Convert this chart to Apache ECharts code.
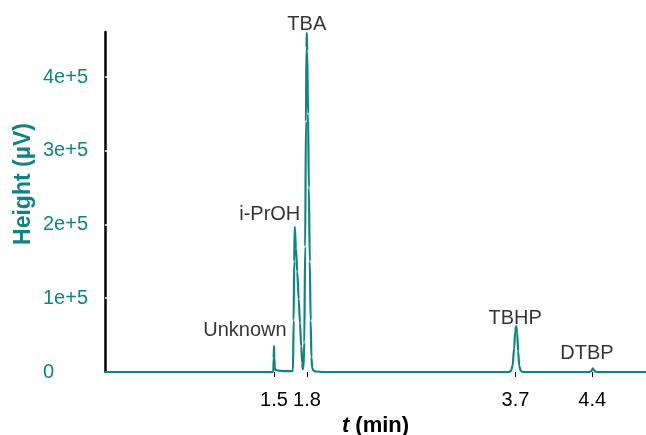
<!DOCTYPE html>
<html>
<head>
<meta charset="utf-8">
<script src="https://cdn.jsdelivr.net/npm/echarts@6/dist/echarts.min.js"></script>
<style>
html,body{margin:0;padding:0;background:#fff;}
#chart{width:646px;height:435px;}
</style>
</head>
<body>
<div id="chart"></div>
<script>
// Chromatogram trace
const times = [
  -0.04, 1.480, 1.494, 1.497, 1.500, 1.503, 1.507, 1.515, 1.540, 1.600, 1.665,
  1.673, 1.679, 1.684, 1.689, 1.700, 1.712, 1.725, 1.737, 1.748, 1.757, 1.762,
  1.768, 1.776, 1.784, 1.791, 1.796, 1.799, 1.803, 1.810, 1.818, 1.826, 1.834,
  1.841, 1.848, 1.858, 1.880, 1.950,
  3.640, 3.660, 3.675, 3.688, 3.698, 3.707, 3.716, 3.725, 3.735, 3.748, 3.770,
  4.370, 4.390, 4.400, 4.406, 4.413, 4.425, 4.450, 4.890
];
const heights = [
  0, 0, 800, 18000, 35600, 19000, 6000, 2800, 1800, 1300, 1100,
  2000, 70000, 150000, 196900, 168000, 136000, 99000, 66000, 35000, 12000, 4000,
  5000, 40000, 170000, 340000, 440000, 460000, 435000, 350000, 250000, 150000, 70000,
  20000, 6000, 2000, 700, 0,
  0, 1500, 9000, 32000, 55000, 62300, 53000, 28000, 8000, 1500, 0,
  0, 1000, 3500, 4800, 3300, 700, 0, 0
];

// Peak annotations
const peakNames = ['Unknown', 'i-PrOH', 'TBA', 'TBHP', 'DTBP'];
const peakTimes = [1.500, 1.689, 1.799, 3.707, 4.406];
const peakHeights = [35600, 196900, 460000, 62300, 4800];

// Axis ticks
const xTicks = [1.5, 1.8, 3.7, 4.4];
const xTickLabels = ['1.5', '1.8', '3.7', '4.4'];
const yTicks = [0, 100000, 200000, 300000, 400000];
const yTickLabels = ['0', '1e+5', '2e+5', '3e+5', '4e+5'];

const TEAL = '#10857f';
const FONT = "'Liberation Sans', Arial, sans-serif";

// label offsets (style only)
const labelOffset = {
  'Unknown': [-29, -5],
  'i-PrOH': [-25, -2],
  'TBA': [0, 2],
  'TBHP': [-1, 2],
  'DTBP': [-6, -5]
};

const trace = times.map((t, i) => [t, heights[i]]);
const peaks = peakNames.map((n, i) => ({
  name: n,
  value: [peakTimes[i], peakHeights[i]],
  label: { offset: labelOffset[n] }
}));

const chart = echarts.init(document.getElementById('chart'), null, { renderer: 'canvas' });
chart.setOption({
  animation: false,
  backgroundColor: '#fff',
  grid: { left: 105, right: 0, top: 32, bottom: 63, containLabel: false, outerBoundsMode: 'none' },
  xAxis: {
    type: 'value',
    min: -0.04,
    max: 4.89,
    name: '{t|t} (min)',
    nameLocation: 'middle',
    nameGap: 40,
    nameTextStyle: {
      color: '#000', fontSize: 22, fontWeight: 'bold', fontFamily: FONT,
      rich: { t: { fontStyle: 'italic', fontWeight: 'bold', fontSize: 22, fontFamily: FONT, color: '#000' } }
    },
    axisLine: { show: false, onZero: false },
    axisTick: {
      show: true, length: 5, customValues: xTicks,
      lineStyle: { color: '#000', width: 1 }
    },
    axisLabel: {
      show: true, customValues: xTicks, margin: 18,
      color: '#000', fontSize: 20, fontFamily: FONT,
      formatter: v => { const k = xTicks.indexOf(v); return k >= 0 ? xTickLabels[k] : ''; }
    },
    splitLine: { show: false }
  },
  yAxis: {
    type: 'value',
    min: 0,
    max: 461000,
    interval: 100000,
    axisLine: { show: true, onZero: false, lineStyle: { color: '#000', width: 2.5 } },
    axisTick: { show: true, inside: true, length: 2, lineStyle: { color: '#fff', width: 1.5 } },
    axisLabel: {
      show: true, align: 'left', margin: 62, showMaxLabel: false,
      color: TEAL, fontSize: 20, fontFamily: FONT,
      formatter: v => { const k = yTicks.indexOf(v); return k >= 0 ? yTickLabels[k] : ''; }
    },
    splitLine: { show: false }
  },
  graphic: [{
    type: 'text',
    x: 24, y: 184,
    rotation: Math.PI / 2,
    silent: true,
    style: {
      text: 'Height (µV)',
      fill: TEAL,
      fontSize: 23, fontWeight: 'bold', fontFamily: FONT,
      align: 'center', verticalAlign: 'middle'
    }
  }],
  series: [{
    type: 'line',
    data: trace,
    showSymbol: false,
    symbol: 'none',
    smooth: 0.3,
    smoothMonotone: 'x',
    lineStyle: { color: TEAL, width: 2.2 },
    z: 2
  }, {
    type: 'scatter',
    data: peaks,
    symbolSize: 0.01,
    itemStyle: { color: '#000' },
    silent: true,
    label: {
      show: true,
      position: 'top',
      distance: 0,
      formatter: p => p.name,
      color: '#000', fontSize: 20, fontFamily: FONT,
      textBorderWidth: 0
    },
    z: 3
  }]
});
</script>
</body>
</html>
